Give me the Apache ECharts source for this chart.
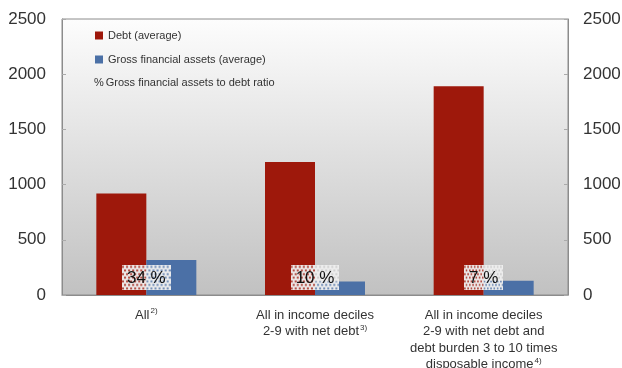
<!DOCTYPE html>
<html>
<head>
<meta charset="utf-8">
<script src="https://cdn.jsdelivr.net/npm/echarts@6/dist/echarts.min.js"></script>
<style>
  html, body { margin: 0; padding: 0; background: #fff; }
  #chart { width: 622px; height: 368px; }
</style>
</head>
<body>
<div id="chart"></div>
<script>
// data
const categories = [
  'All',
  'All in income deciles\n2-9 with net debt',
  'All in income deciles\n2-9 with net debt and\ndebt burden 3 to 10 times\ndisposable income'
]
const footnotes = ['2)', '3)', '4)']
const debt = [920, 1205, 1890]
const assets = [317, 122, 130]
const ratios = ['34', '10', '7']
const yTicks = [0, 500, 1000, 1500, 2000, 2500]

const debtName = 'Debt (average)'
const assetName = 'Gross financial assets (average)'
const ratioName = 'Gross financial assets to debt ratio'

const font = '"Liberation Sans", Arial, sans-serif'

// dotted box behind the ratio labels: light fill with holes so the bars show through
const dots = document.createElement('canvas')
dots.width = 48
dots.height = 25
const ctx = dots.getContext('2d')
ctx.fillStyle = 'rgba(238,238,238,0.97)'
ctx.fillRect(0, 0, dots.width, dots.height)
ctx.globalCompositeOperation = 'destination-out'
for (let row = 0; row * 3.6 < dots.height + 2; row++) {
  for (let col = 0; col * 4 < dots.width + 2; col++) {
    ctx.beginPath()
    ctx.arc(col * 4 + (row % 2 ? 2 : 0) + 1, row * 3.6 + 1.5, 1, 0, Math.PI * 2)
    ctx.fill()
  }
}

const valueAxis = (position, margin) => ({
  type: 'value',
  position: position,
  min: yTicks[0],
  max: yTicks[yTicks.length - 1],
  interval: 500,
  axisLine: { show: true, lineStyle: { color: '#8c8c8c' } },
  axisTick: { show: true, inside: true, length: 4, lineStyle: { color: '#aaa' } },
  splitLine: { show: false },
  axisLabel: { fontSize: 17, color: '#333', margin: margin, formatter: v => String(v) }
})

const chart = echarts.init(document.getElementById('chart'))

chart.setOption({
  animation: false,
  textStyle: { fontFamily: font },
  grid: {
    left: 62,
    right: 54,
    top: 19,
    bottom: 73,
    containLabel: false,
    outerBoundsMode: 'none',
    show: true,
    borderColor: '#8c8c8c',
    borderWidth: 1,
    backgroundColor: new echarts.graphic.LinearGradient(0, 0, 0, 1, [
      { offset: 0, color: '#fdfdfd' },
      { offset: 1, color: '#c1c1c1' }
    ])
  },
  legend: [
    {
      data: [debtName, assetName],
      orient: 'vertical',
      left: 95,
      top: 30,
      padding: 0,
      itemWidth: 8,
      itemHeight: 8,
      itemGap: 13,
      icon: 'rect',
      textStyle: { fontSize: 11, color: '#333', fontFamily: font }
    },
    {
      data: [ratioName],
      left: 89,
      top: 77,
      padding: 0,
      itemWidth: 0,
      itemHeight: 0,
      formatter: name => '{p|%}' + name,
      textStyle: {
        fontSize: 11,
        color: '#333',
        fontFamily: font,
        rich: { p: { fontSize: 11, color: '#333', padding: [0, 2, 0, 0] } }
      }
    }
  ],
  xAxis: {
    type: 'category',
    data: categories,
    axisLine: { lineStyle: { color: '#8c8c8c' } },
    axisTick: { inside: true, length: 5, lineStyle: { color: '#8c8c8c' } },
    axisLabel: {
      margin: 12,
      fontSize: 13,
      lineHeight: 16.5,
      color: '#333',
      interval: 0,
      formatter: (value, idx) => value + '{sup|' + footnotes[idx] + '}',
      rich: {
        sup: { fontSize: 8, color: '#333', verticalAlign: 'top', lineHeight: 16.5, padding: [0, 0, 0, 1] }
      }
    }
  },
  yAxis: [valueAxis('left', 16), valueAxis('right', 15)],
  series: [
    {
      name: debtName,
      type: 'bar',
      data: debt,
      barWidth: 50,
      barGap: '0%',
      itemStyle: { color: '#9e180b' }
    },
    {
      name: assetName,
      type: 'bar',
      data: assets,
      barWidth: 50,
      itemStyle: { color: '#4b70a6' }
    },
    {
      name: ratioName,
      type: 'scatter',
      symbolSize: 0,
      itemStyle: { color: '#222' },
      data: ratios.map((r, i) => [i, 155]),
      z: 5,
      label: {
        show: true,
        position: 'inside',
        formatter: p => ratios[p.dataIndex] + ' %',
        fontSize: 17,
        color: '#111',
        opacity: 1,
        textBorderWidth: 0,
        lineHeight: 19,
        padding: [3, 5],
        backgroundColor: { image: dots }
      }
    }
  ]
})
</script>
</body>
</html>
